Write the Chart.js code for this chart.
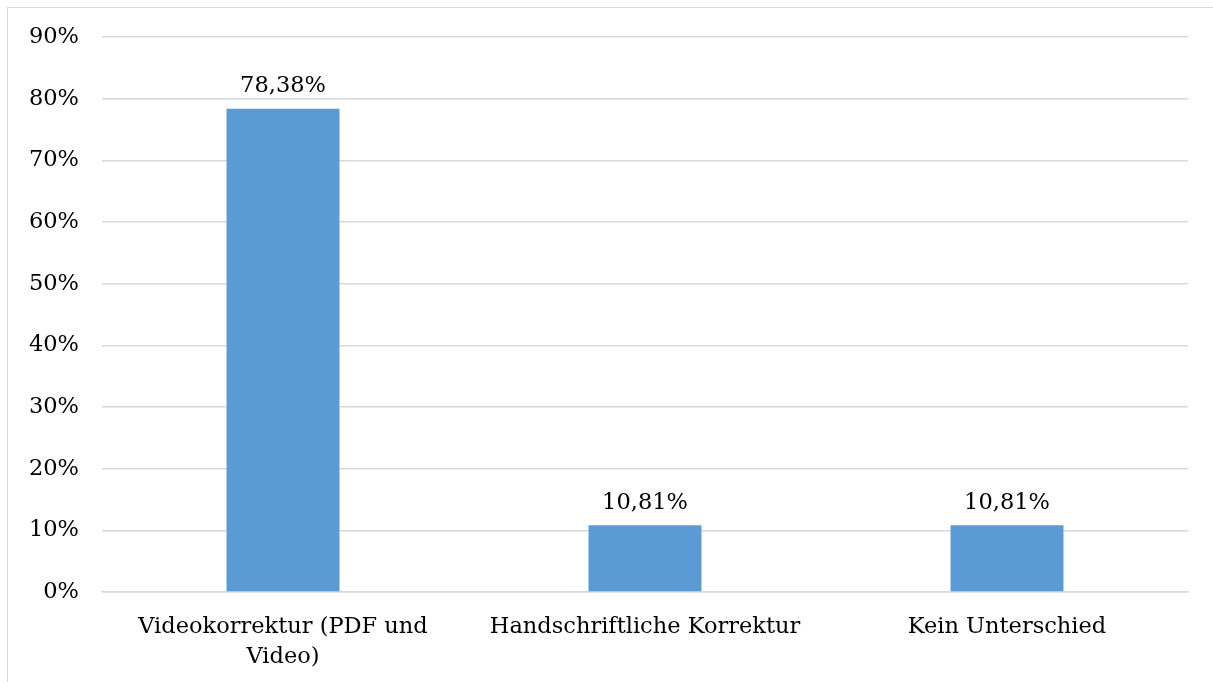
<!DOCTYPE html>
<html>
<head>
<meta charset="utf-8">
<script src="https://cdn.jsdelivr.net/npm/chart.js@4"></script>
<style>
  html, body { margin: 0; padding: 0; background: #fff; overflow: hidden; }
  #wrap { position: absolute; left: 7px; top: 7px; width: 1206px; height: 675px;
          border-left: 1px solid #D9D9D9; border-top: 1px solid #D9D9D9; box-sizing: border-box; }
  canvas { display: block; }
</style>
</head>
<body>
<div id="wrap"><canvas id="c" width="1205" height="674"></canvas></div>
<script>
const categories = [['Videokorrektur (PDF und', 'Video)'], 'Handschriftliche Korrektur', 'Kein Unterschied'];
const values = [78.38, 10.81, 10.81];
const valueLabels = ['78,38%', '10,81%', '10,81%'];
const yTickMax = 90;
const yTickStep = 10;

const FONT = '"DejaVu Serif", "Liberation Serif", serif';
const FSIZE = 22.5;

const dataLabelPlugin = {
  id: 'dataLabels',
  afterDatasetsDraw(chart) {
    const ctx = chart.ctx;
    const meta = chart.getDatasetMeta(0);
    ctx.save();
    ctx.font = FSIZE + 'px ' + FONT;
    ctx.fillStyle = '#000';
    ctx.textAlign = 'center';
    ctx.textBaseline = 'bottom';
    meta.data.forEach((bar, i) => {
      ctx.fillText(valueLabels[i], bar.x, bar.y - 11);
    });
    ctx.restore();
  }
};

new Chart(document.getElementById('c'), {
  type: 'bar',
  data: {
    labels: categories,
    datasets: [{
      data: values,
      backgroundColor: '#5B9BD5',
      borderWidth: 0,
      categoryPercentage: 1.0,
      barPercentage: 0.312
    }]
  },
  options: {
    responsive: false,
    animation: false,
    layout: { padding: { top: 29, right: 25, left: 0, bottom: 0 } },
    plugins: { legend: { display: false }, tooltip: { enabled: false } },
    scales: {
      x: {
        grid: { display: false, drawTicks: false },
        border: { display: true, color: '#D9D9D9', width: 1.5 },
        ticks: {
          color: '#000',
          font: { family: FONT, size: FSIZE, lineHeight: 1.3 },
          padding: 21,
          maxRotation: 0,
          autoSkip: false
        },
        afterFit(scale) { scale.height = 90; }
      },
      y: {
        min: 0,
        max: yTickMax,
        grid: { color: '#D9D9D9', lineWidth: 1.5, drawTicks: false },
        border: { display: false },
        ticks: {
          stepSize: yTickStep,
          color: '#000',
          font: { family: FONT, size: FSIZE },
          padding: 23,
          callback: v => v + '%'
        },
        afterFit(scale) {
          scale.width = 94;
          scale.paddingTop = 0;
          scale.paddingBottom = 0;
        }
      }
    }
  },
  plugins: [dataLabelPlugin]
});
</script>
</body>
</html>
